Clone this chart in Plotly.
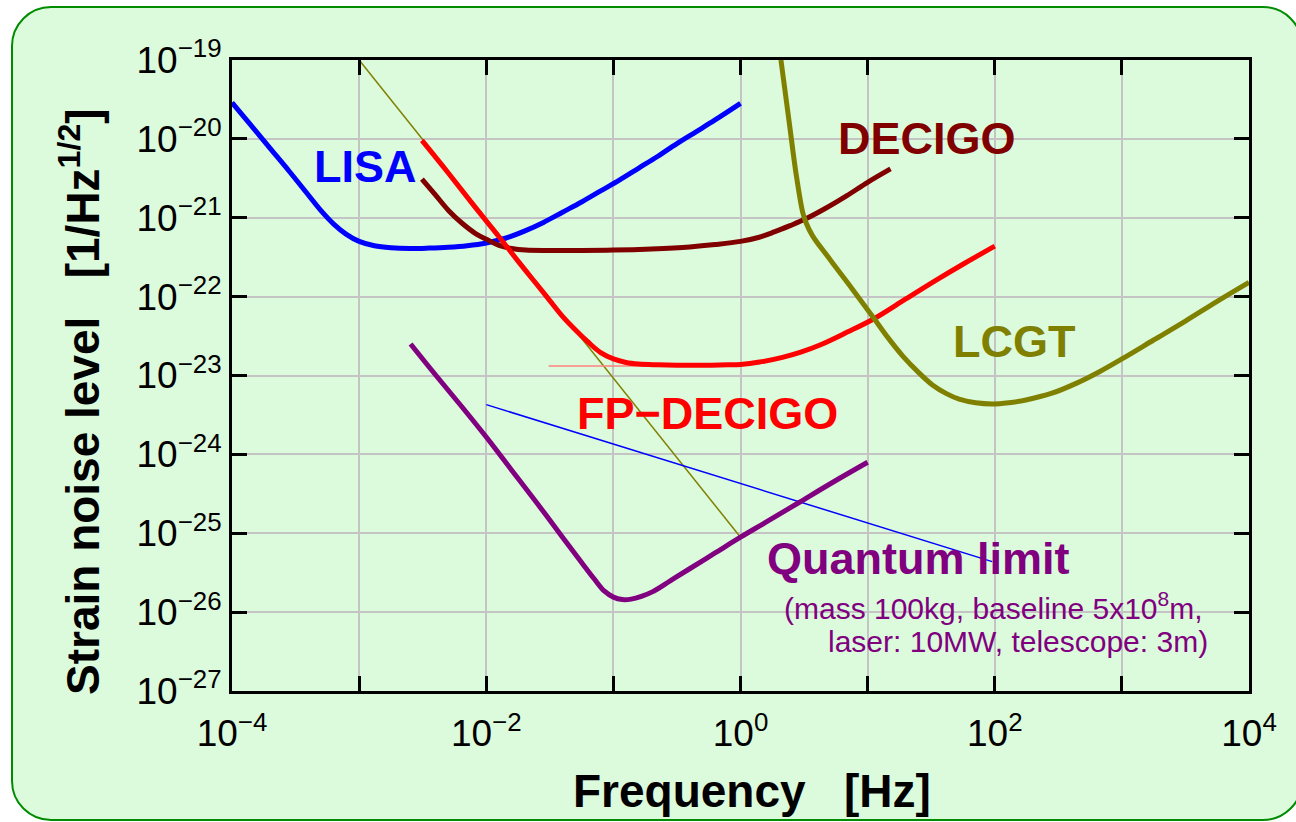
import plotly.graph_objects as go

# ---------------- data ----------------
lisa_f = [1.0e-4, 1.413e-4, 1.995e-4, 2.818e-4, 3.802e-4, 5.012e-4, 6.310e-4, 7.943e-4,
          1.0e-3, 1.318e-3, 1.778e-3, 2.512e-3, 3.548e-3, 5.012e-3, 7.079e-3, 1.0e-2,
          1.413e-2, 1.995e-2, 2.818e-2, 3.981e-2, 5.623e-2, 7.943e-2, 0.1122, 0.1585,
          0.2239, 0.3162, 0.4467, 0.6310, 1.0]
lisa_h = [2.884e-20, 1.479e-20, 7.586e-21, 3.890e-21, 2.138e-21, 1.230e-21, 8.318e-22, 6.166e-22,
          5.012e-22, 4.416e-22, 4.169e-22, 4.074e-22, 4.12e-22, 4.22e-22, 4.416e-22, 4.786e-22,
          5.495e-22, 6.761e-22, 8.710e-22, 1.175e-21, 1.585e-21, 2.188e-21, 3.020e-21, 4.266e-21,
          6.026e-21, 8.710e-21, 1.230e-20, 1.738e-20, 2.818e-20]

decigo_f = [3.119e-3, 3.981e-3, 5.070e-3, 6.457e-3, 8.241e-3, 1.023e-2, 1.259e-2, 1.585e-2,
            2.042e-2, 3.162e-2, 5.623e-2, 0.1, 0.1995, 0.3981, 0.6310, 1.0, 1.380, 1.841,
            2.455, 3.206, 4.677, 6.871, 10.0, 15.14]
decigo_h = [3.090e-21, 1.950e-21, 1.230e-21, 8.511e-22, 6.310e-22, 5.248e-22, 4.467e-22, 4.074e-22,
            3.890e-22, 3.846e-22, 3.846e-22, 3.890e-22, 4.027e-22, 4.266e-22, 4.571e-22, 5.012e-22,
            5.623e-22, 6.607e-22, 7.943e-22, 9.550e-22, 1.318e-21, 1.905e-21, 2.818e-21, 4.169e-21]

fpdecigo_f = [3.12e-3, 5.012e-3, 7.943e-3, 1.259e-2, 1.778e-2, 2.512e-2, 3.162e-2, 3.981e-2,
              5.012e-2, 6.310e-2, 7.943e-2, 0.1, 0.1259, 0.1585, 0.2239, 0.3162, 0.5012, 0.7943,
              1.0, 1.413, 2.138, 3.020, 4.266, 6.918, 11.22, 19.95, 33.88, 57.54, 100.0]
fpdecigo_h = [9.550e-21, 3.715e-21, 1.445e-21, 5.754e-22, 2.818e-22, 1.413e-22, 8.913e-23, 5.623e-23,
              3.802e-23, 2.661e-23, 1.950e-23, 1.622e-23, 1.462e-23, 1.396e-23, 1.365e-23, 1.349e-23,
              1.349e-23, 1.365e-23, 1.380e-23, 1.479e-23, 1.698e-23, 1.995e-23, 2.455e-23, 3.548e-23,
              5.248e-23, 9.333e-23, 1.585e-22, 2.630e-22, 4.365e-22]

lcgt_f = [2.080, 2.421, 2.729, 3.083, 3.273, 3.690, 5.012, 7.079, 11.27, 14.45, 18.84, 25.12,
          32.36, 41.69, 52.48, 70.79, 95.50, 128.8, 175.8, 281.8, 436.5, 660.7, 1000.0,
          1778.0, 3162.0, 5623.0, 10000.0]
lcgt_h = [1.0e-19, 1.585e-20, 3.715e-21, 1.175e-21, 8.710e-22, 5.888e-22, 3.020e-22, 1.445e-22,
          5.248e-23, 3.020e-23, 1.778e-23, 1.096e-23, 7.586e-24, 5.888e-24, 5.012e-24, 4.519e-24,
          4.365e-24, 4.519e-24, 4.898e-24, 5.957e-24, 7.943e-24, 1.109e-23, 1.622e-23,
          2.818e-23, 4.898e-23, 8.710e-23, 1.514e-22]

quantum_f = [2.54e-3, 3.981e-3, 6.310e-3, 1.0e-2, 1.585e-2, 2.512e-2, 3.981e-2, 5.623e-2,
             7.079e-2, 8.511e-2, 0.1, 0.1175, 0.1380, 0.1660, 0.2042, 0.2818, 0.3981, 0.6310,
             1.0, 1.585, 2.884, 5.370, 10.0]
quantum_h = [2.512e-23, 1.023e-23, 4.169e-24, 1.660e-24, 6.310e-25, 2.399e-25, 8.913e-26, 4.266e-26,
             2.630e-26, 1.841e-26, 1.549e-26, 1.445e-26, 1.462e-26, 1.585e-26, 1.820e-26, 2.512e-26,
             3.548e-26, 5.623e-26, 8.913e-26, 1.380e-25, 2.455e-25, 4.467e-25, 7.943e-25]

# thin reference lines
olive_thin_f = [1.0e-3, 1.0]
olive_thin_h = [1.0e-19, 8.9e-26]
blue_thin_f = [1.0e-2, 95.5]
blue_thin_h = [4.27e-24, 4.37e-26]
red_thin_f = [3.1e-2, 0.5]
red_thin_h = [1.32e-23, 1.32e-23]

x_tick_vals = [1e-4, 1e-3, 1e-2, 1e-1, 1e0, 1e1, 1e2, 1e3, 1e4]
x_tick_text = ["10<sup>\u22124</sup>", "", "10<sup>\u22122</sup>", "", "10<sup>0</sup>", "",
               "10<sup>2</sup>", "", "10<sup>4</sup>"]
y_tick_vals = [1e-27, 1e-26, 1e-25, 1e-24, 1e-23, 1e-22, 1e-21, 1e-20, 1e-19]
y_tick_text = ["10<sup>\u221227</sup>", "10<sup>\u221226</sup>", "10<sup>\u221225</sup>",
               "10<sup>\u221224</sup>", "10<sup>\u221223</sup>", "10<sup>\u221222</sup>",
               "10<sup>\u221221</sup>", "10<sup>\u221220</sup>", "10<sup>\u221219</sup>"]

# ---------------- layout helpers ----------------
W, H = 1296, 822
ML, MR, MT, MB = 232, 47, 60, 131
PW, PH = W - ML - MR, H - MT - MB
FONT = "Liberation Sans, Arial, Helvetica, sans-serif"


def px2paper(px, py):
    return (px - ML) / PW, (H - MB - py) / PH


def rounded_rect_path(l, t, r, b, rad):
    k = 0.5523 * rad
    pts = [
        ("M", [(l + rad, t)]),
        ("L", [(r - rad, t)]),
        ("C", [(r - rad + k, t), (r, t + rad - k), (r, t + rad)]),
        ("L", [(r, b - rad)]),
        ("C", [(r, b - rad + k), (r - rad + k, b), (r - rad, b)]),
        ("L", [(l + rad, b)]),
        ("C", [(l + rad - k, b), (l, b - rad + k), (l, b - rad)]),
        ("L", [(l, t + rad)]),
        ("C", [(l, t + rad - k), (l + rad - k, t), (l + rad, t)]),
    ]
    s = ""
    for cmd, ps in pts:
        s += cmd + " " + " ".join("%.5f,%.5f" % px2paper(x, y) for x, y in ps) + " "
    return s + "Z"


fig = go.Figure()


def add_line(fx, hy, color, width, smooth=1.0):
    fig.add_trace(go.Scatter(x=fx, y=hy, mode="lines",
                             line=dict(color=color, width=width, shape="spline", smoothing=smooth),
                             hoverinfo="skip", showlegend=False))


add_line(olive_thin_f, olive_thin_h, "#808000", 1.5)
add_line(red_thin_f, red_thin_h, "#ff8080", 1.5)
add_line(blue_thin_f, blue_thin_h, "#0000ff", 1.5)
add_line(lisa_f, lisa_h, "#0000ff", 5)
add_line(decigo_f, decigo_h, "#800000", 5)
add_line(fpdecigo_f, fpdecigo_h, "#ff0000", 5)
add_line(lcgt_f, lcgt_h, "#808000", 5)
add_line(quantum_f, quantum_h, "#800080", 5)

axis_common = dict(
    type="log", showline=True, linecolor="black", linewidth=3, mirror="allticks",
    ticks="inside", ticklen=15, tickwidth=3, tickcolor="black",
    showgrid=True, gridcolor="#c4c4c4", gridwidth=1.5, zeroline=False,
    tickfont=dict(family=FONT, size=37, color="black"),
)
fig.update_xaxes(range=[-4, 4], tickvals=x_tick_vals, ticktext=x_tick_text,
                 ticklabelstandoff=8, **axis_common)
fig.update_yaxes(range=[-27, -19], tickvals=y_tick_vals, ticktext=y_tick_text, **axis_common)


def label(text, px, py, color, size, bold=True, xanchor="center", angle=0):
    x, y = px2paper(px, py)
    fig.add_annotation(x=x, y=y, xref="paper", yref="paper", text=text, showarrow=False,
                       xanchor=xanchor, yanchor="middle", textangle=angle,
                       font=dict(family=FONT, size=size, color=color,
                                 weight="bold" if bold else "normal"))


label("LISA", 365, 167, "#0000ff", 45)
label("DECIGO", 927, 138, "#800000", 45)
label("LCGT", 1014, 341, "#808000", 45)
label("FP\u2212DECIGO", 707, 413, "#ff0000", 45)
label("Quantum limit", 918, 558, "#800080", 45)
label("(mass 100kg, baseline 5x10<sup>8</sup>m,", 1205, 606, "#800080", 30, bold=False, xanchor="right")
label("laser: 10MW, telescope: 3m)", 1210, 641, "#800080", 30, bold=False, xanchor="right")
label("Frequency\u00a0\u00a0\u00a0[Hz]", 752, 791, "black", 46)
label("Strain noise level\u00a0\u00a0\u00a0[1/Hz<sup>1/2</sup>]", 80, 402, "black", 46, angle=-90)

fig.add_shape(type="path", xref="paper", yref="paper", layer="below",
              path=rounded_rect_path(12, 7, 1302, 820, 39),
              line=dict(color="#008c00", width=2), fillcolor="#dcfadc")

fig.update_layout(
    width=W, height=H, margin=dict(l=ML, r=MR, t=MT, b=MB),
    paper_bgcolor="white", plot_bgcolor="rgba(0,0,0,0)",
    font=dict(family=FONT, color="black"),
)

fig.write_html("out.html")
